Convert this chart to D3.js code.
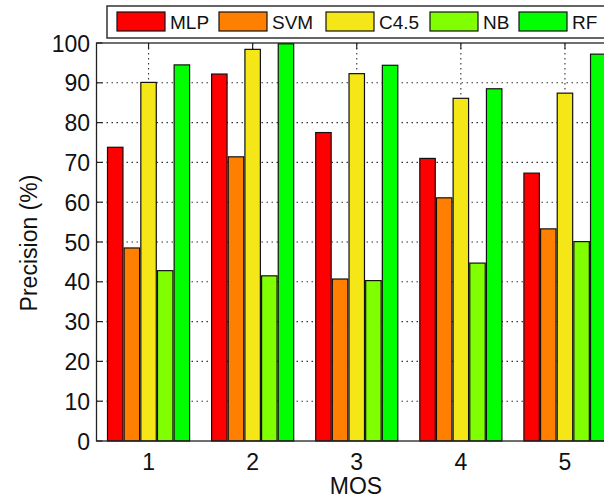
<!DOCTYPE html>
<html><head><meta charset="utf-8">
<script src="https://cdn.jsdelivr.net/npm/d3@7"></script>
<style>
body{margin:0;background:#fff;}
text{font-family:"Liberation Sans",Arial,sans-serif;fill:#111;}
</style></head>
<body><svg id="c" width="604" height="499"></svg>
<script>
const categories = ["1","2","3","4","5"];
const seriesNames = ["MLP","SVM","C4.5","NB","RF"];
const seriesColors = ["#ff0000","#ff8000","#f5e617","#80ff00","#00ff00"];
const MLP  = [73.8, 92.2, 77.5, 71.0, 67.3];
const SVM  = [48.5, 71.4, 40.7, 61.1, 53.3];
const C45  = [90.1, 98.4, 92.3, 86.1, 87.4];
const NB   = [42.8, 41.5, 40.3, 44.7, 50.1];
const RF   = [94.5, 99.8, 94.4, 88.5, 97.2];
const yTicks = [0,10,20,30,40,50,60,70,80,90,100];
const seriesValues = [MLP, SVM, C45, NB, RF];

const svg = d3.select("#c");
const L = 96.5, R = 617, T = 43, B = 441;
const x = d3.scaleLinear().domain([0.5, 5.5]).range([L, R]);
const y = d3.scaleLinear().domain([0, 100]).range([B, T]);

const g = svg.append("g");
// grid
g.selectAll(".hg").data(yTicks.filter(v => v > 0 && v < 100)).join("line")
  .attr("x1", L).attr("x2", R).attr("y1", d => y(d)).attr("y2", d => y(d))
  .attr("stroke", "#333").attr("stroke-width", 1.1).attr("stroke-dasharray", "1.5,3.5");
g.selectAll(".vg").data(categories).join("line")
  .attr("x1", (d,i) => x(i+1)).attr("x2", (d,i) => x(i+1)).attr("y1", T).attr("y2", B)
  .attr("stroke", "#333").attr("stroke-width", 1.1).attr("stroke-dasharray", "1.5,3.5");

// bars
const groupW = 0.8, slot = groupW / seriesNames.length;
const bw = x(slot) - x(0);
seriesValues.forEach((vals, s) => {
  g.selectAll(".b" + s).data(vals).join("rect")
    .attr("x", (d,i) => x(i + 1 - groupW/2 + s*slot) + 0.6)
    .attr("width", bw - 1.2)
    .attr("y", d => y(d))
    .attr("height", d => y(0) - y(d))
    .attr("fill", seriesColors[s]).attr("stroke", "#111").attr("stroke-width", 1.2);
});

// axes box & ticks
g.append("rect").attr("x", L).attr("y", T).attr("width", R - L).attr("height", B - T)
  .attr("fill", "none").attr("stroke", "#222").attr("stroke-width", 1.3);
g.selectAll(".yt").data(yTicks).join("line")
  .attr("x1", L).attr("x2", L + 6).attr("y1", d => y(d)).attr("y2", d => y(d))
  .attr("stroke", "#222").attr("stroke-width", 1.2);
g.selectAll(".xt").data(categories).join("line")
  .attr("x1", (d,i) => x(i+1)).attr("x2", (d,i) => x(i+1)).attr("y1", T).attr("y2", T + 6)
  .attr("stroke", "#222").attr("stroke-width", 1.2);

// tick labels
g.selectAll(".yl").data(yTicks).join("text")
  .attr("x", 90).attr("y", d => y(d) + 8.5).attr("text-anchor", "end")
  .attr("font-size", 23).text(d => d);
g.selectAll(".xl").data(categories).join("text")
  .attr("x", (d,i) => x(i+1)).attr("y", 470).attr("text-anchor", "middle")
  .attr("font-size", 23).text(d => d);

// axis titles
svg.append("text").attr("x", 356).attr("y", 494).attr("text-anchor", "middle")
  .attr("font-size", 23).text("MOS");
svg.append("text").attr("transform", "translate(37,243) rotate(-90)")
  .attr("text-anchor", "middle").attr("font-size", 23).text("Precision (%)");

// legend
const lg = svg.append("g");
lg.append("rect").attr("x", 107).attr("y", 6).attr("width", 505).attr("height", 32)
  .attr("fill", "#fff").attr("stroke", "#333").attr("stroke-width", 1.5);
const legX = [117, 219, 326, 430, 519];
seriesNames.forEach((n, i) => {
  lg.append("rect").attr("x", legX[i]).attr("y", 12).attr("width", 48).attr("height", 19)
    .attr("fill", seriesColors[i]).attr("stroke", "#111").attr("stroke-width", 1.2);
  lg.append("text").attr("x", legX[i] + 53).attr("y", 29).attr("font-size", 19).text(n);
});
</script></body></html>
